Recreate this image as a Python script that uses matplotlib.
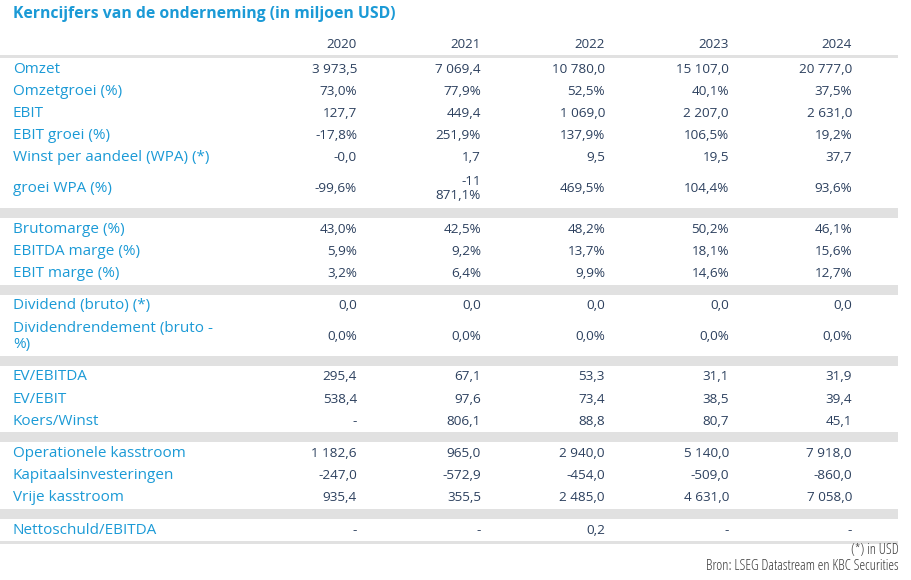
import matplotlib
matplotlib.use('Agg')
import matplotlib.pyplot as plt
from matplotlib.patches import Rectangle

plt.rcParams['font.family'] = ['Open Sans', 'DejaVu Sans']

TITLE = 'Kerncijfers van de onderneming (in miljoen USD)'
YEARS = ['2020', '2021', '2022', '2023', '2024']

# groep 1: resultaten
labels_results = ['Omzet', 'Omzetgroei (%)', 'EBIT', 'EBIT groei (%)',
                  'Winst per aandeel (WPA) (*)', 'groei WPA (%)']
values_results = [
    [3973.5, 7069.4, 10780.0, 15107.0, 20777.0],
    [73.0, 77.9, 52.5, 40.1, 37.5],
    [127.7, 449.4, 1069.0, 2207.0, 2631.0],
    [-17.8, 251.9, 137.9, 106.5, 19.2],
    [-0.0, 1.7, 9.5, 19.5, 37.7],
    [-99.6, -11871.1, 469.5, 104.4, 93.6],
]
pct_results = [False, True, False, True, False, True]

# groep 2: marges
labels_margins = ['Brutomarge (%)', 'EBITDA marge (%)', 'EBIT marge (%)']
values_margins = [
    [43.0, 42.5, 48.2, 50.2, 46.1],
    [5.9, 9.2, 13.7, 18.1, 15.6],
    [3.2, 6.4, 9.9, 14.6, 12.7],
]
pct_margins = [True, True, True]

# groep 3: dividend
labels_dividend = ['Dividend (bruto) (*)', 'Dividendrendement (bruto -\n%)']
values_dividend = [
    [0.0, 0.0, 0.0, 0.0, 0.0],
    [0.0, 0.0, 0.0, 0.0, 0.0],
]
pct_dividend = [False, True]

# groep 4: waardering
labels_valuation = ['EV/EBITDA', 'EV/EBIT', 'Koers/Winst']
values_valuation = [
    [295.4, 67.1, 53.3, 31.1, 31.9],
    [538.4, 97.6, 73.4, 38.5, 39.4],
    [None, 806.1, 88.8, 80.7, 45.1],
]
pct_valuation = [False, False, False]

# groep 5: kasstromen
labels_cash = ['Operationele kasstroom', 'Kapitaalsinvesteringen', 'Vrije kasstroom']
values_cash = [
    [1182.6, 965.0, 2940.0, 5140.0, 7918.0],
    [-247.0, -572.9, -454.0, -509.0, -860.0],
    [935.4, 355.5, 2485.0, 4631.0, 7058.0],
]
pct_cash = [False, False, False]

# groep 6: schuld
labels_debt = ['Nettoschuld/EBITDA']
values_debt = [[None, None, 0.2, None, None]]
pct_debt = [False]

NOTES = ['(*) in USD', 'Bron: LSEG Datastream en KBC Securities']

BLUE = '#1b9ad6'
NAVY = '#2c405e'
GREY = '#e1e1e1'


def format_value(value, pct):
    """Getal in Belgische notatie: spatie als duizendtal, komma als decimaal."""
    if value is None:
        return '-'
    text = f'{value:,.1f}'.replace(',', ' ').replace('.', ',')
    if pct:
        text += '%'
    if len(text) > 9:
        # te breed voor de kolom: afbreken na de eerste spatie
        text = text.replace(' ', '\n', 1)
    return text


def draw_table():
    fig = plt.figure(figsize=(9.12, 5.8), dpi=100)
    ax = fig.add_axes([0, 0, 1, 1])
    ax.set_xlim(0, 912)
    ax.set_ylim(580, 0)
    ax.axis('off')

    label_x = 13
    col_x = [357, 481, 605, 729, 852]
    table_right = 898
    row_h = 22.2
    tall_h = 39
    band_h = 10

    ax.text(label_x, 14, TITLE, color=BLUE, fontsize=11.3, fontweight='bold',
            va='center', ha='left')
    for x, year in zip(col_x, YEARS):
        ax.text(x, 45, year, color=NAVY, fontsize=9.6, ha='right', va='center')

    ax.add_patch(Rectangle((0, 55), table_right, 2.5, color=GREY, lw=0))

    groups = [
        (labels_results, values_results, pct_results),
        (labels_margins, values_margins, pct_margins),
        (labels_dividend, values_dividend, pct_dividend),
        (labels_valuation, values_valuation, pct_valuation),
        (labels_cash, values_cash, pct_cash),
        (labels_debt, values_debt, pct_debt),
    ]

    y = 58
    for gi, (labels, values, pcts) in enumerate(groups):
        if gi > 0:
            ax.add_patch(Rectangle((0, y), table_right, band_h, color=GREY, lw=0))
            y += band_h
        for label, row, pct in zip(labels, values, pcts):
            cells = [format_value(v, pct) for v in row]
            tall = '\n' in label or any('\n' in c for c in cells)
            h = tall_h if tall else row_h
            yc = y + h / 2
            ax.text(label_x, yc, label, color=BLUE, fontsize=11, ha='left',
                    va='center', linespacing=1.1)
            for x, cell in zip(col_x, cells):
                ax.text(x, yc, cell, color=NAVY, fontsize=9.7, ha='right',
                        va='center', multialignment='right', linespacing=1.1)
            y += h

    ax.add_patch(Rectangle((0, y), table_right, 2.5, color=GREY, lw=0))

    ax.text(899, 550, NOTES[0], color='#3a3a3a', fontsize=10.5, ha='right', va='center',
            fontstretch='condensed')
    ax.text(899, 566, NOTES[1], color='#3a3a3a', fontsize=10.5, ha='right', va='center',
            fontstretch='condensed')

    fig.savefig('out.png', dpi=100, facecolor='white')


def main():
    draw_table()


if __name__ == '__main__':
    main()
